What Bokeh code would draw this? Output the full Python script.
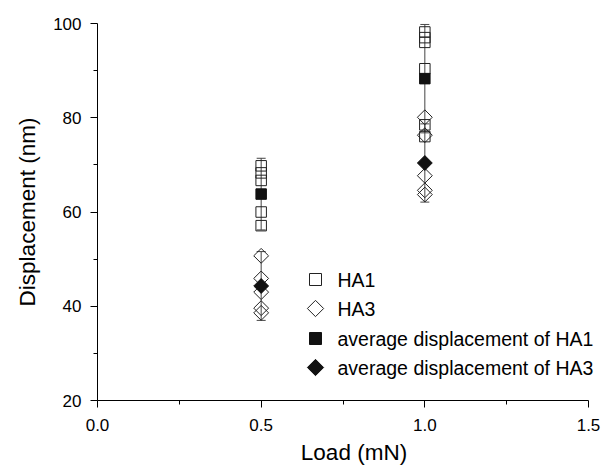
import numpy as np
from bokeh.plotting import figure
from bokeh.models import (ColumnDataSource, Whisker, TeeHead, Range1d, FixedTicker,
                          CustomJSTickFormatter, Label)
from bokeh.embed import file_html
from bokeh.resources import INLINE

# ---- data ----
ha1_load = [0.5, 0.5, 0.5, 0.5, 0.5, 1.0, 1.0, 1.0, 1.0, 1.0, 1.0]
ha1_disp = [69.8, 68.3, 66.7, 60.0, 57.1, 98.2, 97.0, 96.0, 90.4, 78.5, 76.0]
ha3_load = [0.5, 0.5, 0.5, 0.5, 0.5, 1.0, 1.0, 1.0, 1.0, 1.0]
ha3_disp = [50.7, 45.9, 43.0, 39.6, 38.6, 80.1, 76.3, 67.7, 64.6, 63.7]
avg_load = [0.5, 1.0]
avg_ha1 = [63.8, 88.3]
sd_ha1 = [7.6, 11.5]
avg_ha3 = [44.3, 70.4]
sd_ha3 = [7.3, 8.3]
x_ticks = [0.0, 0.5, 1.0, 1.5]
y_ticks = [20, 40, 60, 80, 100]
legend_labels = ["HA1", "HA3", "average displacement of HA1", "average displacement of HA3"]

FONT = "Liberation Sans"
AXW = 491          # pixel length of the 0..1.5 axis
FW, FH = 513, 377  # frame extends a little past 1.5 so the legend text is not clipped
XMAX = 1.5 * FW / AXW

p = figure(frame_width=FW, frame_height=FH, output_backend="svg", toolbar_location=None,
           x_range=Range1d(0, XMAX), y_range=Range1d(20, 100),
           min_border_left=97, min_border_right=5, min_border_top=23, min_border_bottom=0)
p.outline_line_color = None
p.grid.visible = False
p.background_fill_color = "white"

for ax in (p.xaxis[0], p.yaxis[0]):
    ax.axis_line_color = "black"
    ax.major_tick_line_color = "black"
    ax.minor_tick_line_color = "black"
    ax.major_tick_out = 7
    ax.major_tick_in = 0
    ax.minor_tick_out = 4
    ax.minor_tick_in = 0
    ax.major_label_text_font = FONT
    ax.major_label_text_font_size = "17px"
    ax.major_label_text_color = "black"
    ax.axis_label_text_font = FONT
    ax.axis_label_text_font_size = "22.5px"
    ax.axis_label_text_font_style = "normal"
    ax.axis_label_text_color = "black"

p.xaxis[0].bounds = (0, 1.5)
p.xaxis[0].ticker = FixedTicker(ticks=x_ticks, minor_ticks=[0.25, 0.75, 1.25])
p.yaxis[0].ticker = FixedTicker(ticks=y_ticks, minor_ticks=[30, 50, 70, 90])
p.xaxis[0].formatter = CustomJSTickFormatter(code="return tick.toFixed(1);")
p.xaxis[0].axis_label = "Load (mN)"
p.yaxis[0].axis_label = "Displacement (nm)"
p.xaxis[0].major_label_standoff = 11
p.yaxis[0].major_label_standoff = 9
p.xaxis[0].axis_label_standoff = 6
p.yaxis[0].axis_label_standoff = 10

# error bars
eb = ColumnDataSource(dict(x=avg_load + avg_load,
                           lo=[m - s for m, s in zip(avg_ha1, sd_ha1)] + [m - s for m, s in zip(avg_ha3, sd_ha3)],
                           hi=[m + s for m, s in zip(avg_ha1, sd_ha1)] + [m + s for m, s in zip(avg_ha3, sd_ha3)]))
w = Whisker(base="x", lower="lo", upper="hi", source=eb, line_color="#444444", line_width=1,
            level="underlay",
            upper_head=TeeHead(size=9, line_color="#444444", line_width=1),
            lower_head=TeeHead(size=9, line_color="#444444", line_width=1))
p.add_layout(w)

LC = "#222222"
DK = "#111111"
p.scatter(ha1_load, ha1_disp, marker="square", size=10.5, fill_color=None, line_color=LC, line_width=1)
p.scatter(ha3_load, ha3_disp, marker="square", angle=np.pi / 4, size=10.5, fill_color=None, line_color=LC, line_width=1)
p.scatter(avg_load, avg_ha1, marker="square", size=10.5, fill_color=DK, line_color=DK)
p.scatter(avg_load, avg_ha3, marker="square", angle=np.pi / 4, size=10.5, fill_color=DK, line_color=DK)

# ---- legend (frame pixel coordinates via extra ranges) ----
p.extra_x_ranges = {"leg": Range1d(0, FW)}
p.extra_y_ranges = {"leg": Range1d(0, FH)}
leg_y = [121, 92, 62, 33]
leg_gx = 218
leg_tx = 240
p.scatter([leg_gx], [leg_y[0]], x_range_name="leg", y_range_name="leg",
          marker="square", size=12, fill_color=None, line_color=LC, line_width=1)
p.scatter([leg_gx], [leg_y[1]], x_range_name="leg", y_range_name="leg",
          marker="square", angle=np.pi / 4, size=11.5, fill_color=None, line_color=LC, line_width=1)
p.scatter([leg_gx], [leg_y[2]], x_range_name="leg", y_range_name="leg",
          marker="square", size=12, fill_color=DK, line_color=DK)
p.scatter([leg_gx], [leg_y[3]], x_range_name="leg", y_range_name="leg",
          marker="square", angle=np.pi / 4, size=11.5, fill_color=DK, line_color=DK)
for lbl, ly in zip(legend_labels, leg_y):
    p.add_layout(Label(x=leg_tx, y=ly, text=lbl, x_range_name="leg", y_range_name="leg",
                       text_font=FONT, text_font_size="19.5px", text_baseline="middle",
                       text_align="left", text_color="black"))

open("out.html", "w").write(file_html(p, INLINE))
